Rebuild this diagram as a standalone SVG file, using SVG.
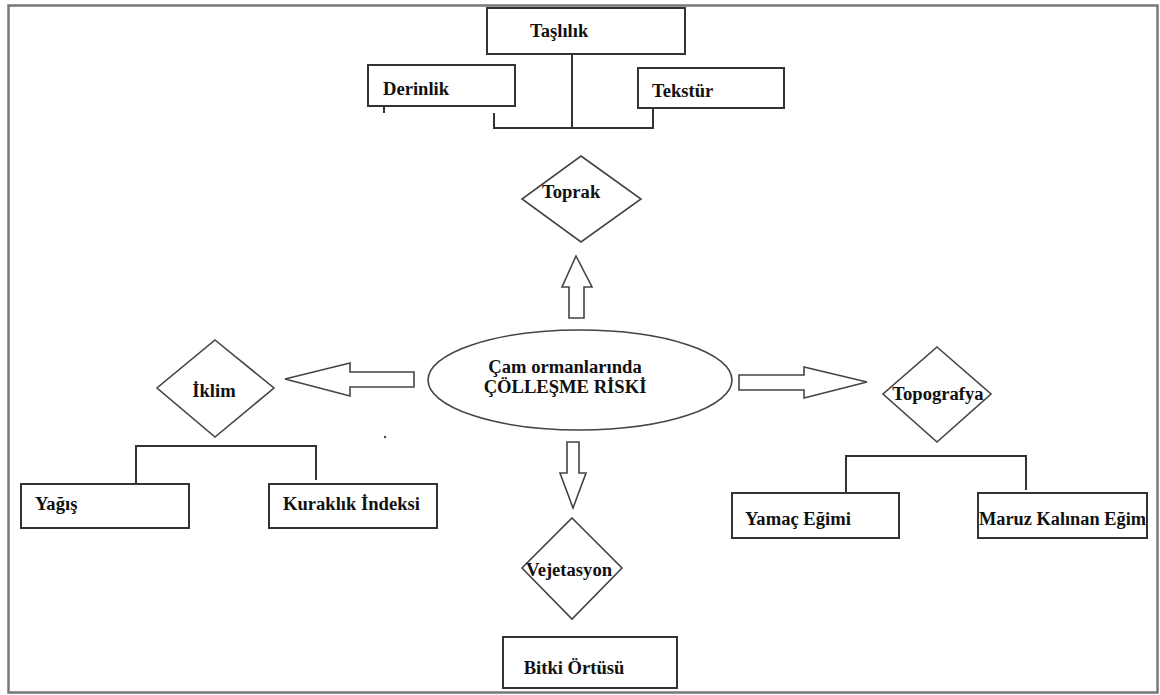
<svg xmlns="http://www.w3.org/2000/svg" width="1160" height="695" viewBox="0 0 1160 695">
<style>
.box{fill:#fff;stroke:#333;stroke-width:2}
.dia{fill:#fff;stroke:#444;stroke-width:1.6}
.arr{fill:#fff;stroke:#444;stroke-width:1.6;stroke-linejoin:miter}
.ln{fill:none;stroke:#333;stroke-width:2}
text{font-family:"Liberation Serif","Times New Roman",serif;font-weight:bold;font-size:18.6px;fill:#111}
.c{text-anchor:middle}
</style>
<rect x="0" y="0" width="1160" height="695" fill="#fff"/>
<rect x="8.5" y="5.5" width="1149" height="687" fill="none" stroke="#777" stroke-width="2.5"/>
<g id="connectors">
<path class="ln" d="M572,54 V128 M494,113 V128 H653 V108"/>
<path class="ln" d="M384,106 V113" stroke-width="1.5"/>
<path class="ln" d="M136,483 V446 H316 V480"/>
<path class="ln" d="M846,493 V456 H1026 V490"/>
<path class="arr" d="M569,318 V287 H562 L576,256 L592,287 H584 V318 Z"/>
<path class="arr" d="M414,372 H350 V363 L285,379 L350,396 V387 H414 Z"/>
<path class="arr" d="M739,375 H804 V367 L867,382 L804,398 V390 H739 Z"/>
<path class="arr" d="M567,442 V473 H560 L573,508 L586,473 H579 V442 Z"/>
<circle cx="385" cy="437" r="1.2" fill="#444"/>
</g>
<g id="taslilik"><rect class="box" x="487" y="8" width="198" height="46"/><text x="530" y="37">Taşlılık</text></g>
<g id="derinlik"><rect class="box" x="368" y="65" width="147" height="41"/><text x="383" y="95">Derinlik</text></g>
<g id="tekstur"><rect class="box" x="638" y="68" width="146" height="40"/><text x="652" y="97">Tekstür</text></g>
<g id="toprak"><polygon class="dia" points="581,156 641,199 581,242 522,199"/><text x="542" y="198">Toprak</text></g>
<g id="center"><ellipse cx="580" cy="380" rx="152" ry="50" fill="#fff" stroke="#444" stroke-width="1.6"/><text class="c" x="565" y="373">Çam ormanlarında</text><text class="c" x="565" y="393">ÇÖLLEŞME RİSKİ</text></g>
<g id="iklim"><polygon class="dia" points="215,340 274,388 215,437 157,388"/><text class="c" x="214" y="397">İklim</text></g>
<g id="yagis"><rect class="box" x="21" y="484" width="168" height="44"/><text x="35" y="510">Yağış</text></g>
<g id="kuraklik"><rect class="box" x="269" y="484" width="168" height="44"/><text x="283" y="510">Kuraklık İndeksi</text></g>
<g id="topografya"><polygon class="dia" points="937,347 991,394 937,442 883,394"/><text class="c" x="938" y="400">Topografya</text></g>
<g id="yamac"><rect class="box" x="732" y="493" width="167" height="45"/><text x="745" y="525">Yamaç Eğimi</text></g>
<g id="maruz"><rect class="box" x="978" y="493" width="169" height="45"/><text x="979" y="525" textLength="167" lengthAdjust="spacingAndGlyphs">Maruz Kalınan Eğim</text></g>
<g id="vejetasyon"><polygon class="dia" points="572,518 622,568 572,619 522,568"/><text class="c" x="569" y="576">Vejetasyon</text></g>
<g id="bitki"><rect class="box" x="503" y="637" width="174" height="51"/><text class="c" x="574" y="674">Bitki Örtüsü</text></g>
</svg>
